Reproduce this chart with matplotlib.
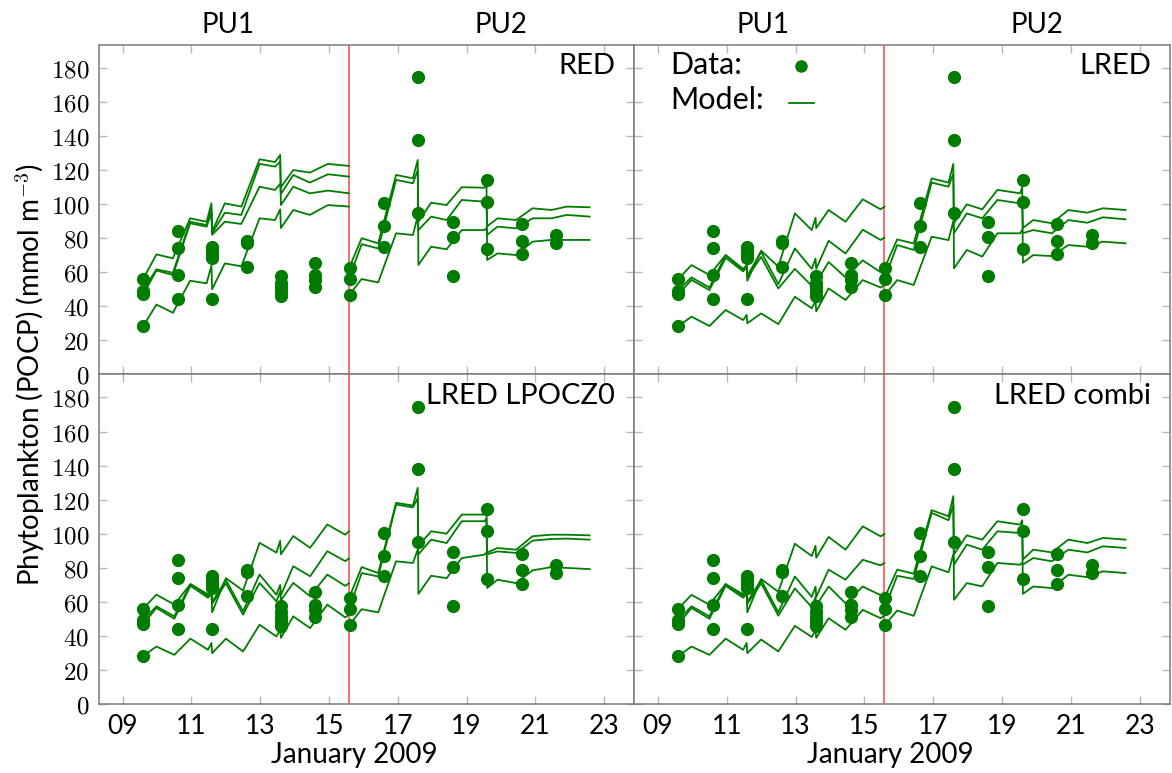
import matplotlib
matplotlib.use("Agg")
import matplotlib.pyplot as plt

plt.rcParams['font.family'] = ['Lato', 'DejaVu Sans']
plt.rcParams['mathtext.fontset'] = 'cm'

# observations (same in every panel)
obs_day = [9.6, 9.6, 9.6, 9.6,
           10.6, 10.6, 10.6, 10.6,
           11.6, 11.6, 11.6, 11.6, 11.6,
           12.6, 12.6, 12.6,
           13.6, 13.6, 13.6, 13.6, 13.6,
           14.6, 14.6, 14.6, 14.6,
           15.6, 15.6, 15.6,
           16.6, 16.6, 16.6,
           17.6, 17.6, 17.6,
           18.6, 18.6, 18.6,
           19.6, 19.6, 19.6,
           20.6, 20.6, 20.6,
           21.6, 21.6]
obs_val = [56.0, 49.2, 47.2, 28.4,
           84.5, 74.0, 58.5, 44.3,
           75.0, 72.7, 70.7, 68.2, 44.1,
           78.6, 77.4, 63.3,
           57.8, 53.9, 51.5, 49.0, 46.0,
           65.6, 58.4, 55.4, 51.5,
           62.3, 56.0, 46.4,
           100.5, 87.2, 75.0,
           174.6, 137.8, 95.0,
           89.4, 80.5, 57.8,
           114.3, 101.5, 73.7,
           88.4, 78.6, 70.7,
           81.9, 77.0]

# model output times
t_red1 = [9.6, 9.98, 10.46, 10.96, 11.44, 11.58, 11.6, 11.97, 12.45, 12.98,
          13.43, 13.58, 13.6, 13.96, 14.44, 14.97, 15.58]
t_lr1 = [9.6, 9.98, 10.5, 10.97, 11.48, 11.58, 11.6, 12.0, 12.5, 12.98,
         13.47, 13.58, 13.6, 13.96, 14.45, 14.95, 15.47, 15.58]
t_pu2 = [15.58, 15.95, 16.43, 16.95, 17.44, 17.58, 17.6, 17.97, 18.42, 18.86,
         19.52, 19.58, 19.6, 19.9, 20.44, 20.92, 21.47, 21.92, 22.58]

# RED
red_pu1 = [
    [56.2, 70.5, 68.2, 91.7, 89.7, 100.5, 84.0, 100.5, 98.6, 126.4, 124.8, 129.0, 99.5, 110.3, 106.4, 108.0, 106.4],
    [49.6, 61.7, 59.7, 89.7, 87.8, 97.0, 83.0, 95.0, 93.7, 123.7, 122.1, 125.0, 110.0, 120.1, 118.6, 123.7, 122.5],
    [47.2, 61.0, 58.4, 88.8, 86.8, 95.0, 82.0, 89.7, 88.4, 110.3, 108.4, 112.0, 106.0, 117.2, 112.7, 117.6, 116.2],
    [28.4, 41.0, 36.2, 55.0, 53.5, 64.0, 50.0, 65.2, 63.5, 91.7, 90.7, 97.0, 86.0, 96.6, 93.7, 99.5, 98.6],
]
red_pu2 = [
    [62.3, 80.0, 77.0, 117.2, 115.2, 126.0, 64.3, 75.0, 73.5, 84.8, 84.8, 86.0, 82.0, 86.8, 85.8, 91.7, 91.7, 93.7, 92.7],
    [56.4, 76.5, 74.0, 114.3, 112.3, 120.0, 89.7, 100.9, 99.5, 110.0, 109.7, 113.0, 67.2, 71.1, 70.1, 78.0, 79.0, 79.0, 79.0],
    [46.6, 56.0, 54.0, 82.9, 81.9, 93.0, 84.8, 92.7, 90.7, 102.5, 101.5, 103.0, 87.0, 91.7, 90.7, 97.6, 96.6, 98.6, 98.2],
]

# LRED
lred_pu1 = [
    [56.2, 64.2, 58.4, 70.1, 61.3, 64.0, 55.0, 72.7, 63.3, 94.6, 84.8, 92.0, 86.0, 96.6, 89.7, 102.9, 97.0, 98.6],
    [49.6, 57.0, 51.0, 70.0, 62.0, 64.0, 58.0, 72.0, 53.0, 74.0, 62.0, 68.0, 62.0, 78.5, 71.0, 85.0, 79.0, 80.3],
    [47.2, 55.5, 49.5, 68.5, 60.5, 63.0, 57.0, 69.0, 50.5, 62.0, 52.0, 58.0, 54.0, 66.0, 57.0, 67.0, 60.0, 61.3],
    [28.4, 33.9, 28.4, 37.8, 31.9, 35.0, 30.0, 35.8, 29.5, 45.6, 38.8, 43.0, 37.0, 50.5, 43.7, 55.4, 51.0, 52.5],
]
lred_pu2 = [
    [62.3, 79.3, 76.9, 115.2, 112.7, 123.7, 62.3, 73.1, 69.2, 82.9, 82.9, 85.0, 83.0, 84.8, 82.9, 90.7, 89.1, 92.3, 91.1],
    [55.8, 76.0, 73.1, 112.7, 110.3, 118.0, 89.0, 99.9, 97.0, 108.4, 106.4, 110.0, 65.6, 70.1, 69.5, 76.0, 75.0, 78.0, 77.0],
    [46.2, 55.4, 52.5, 80.9, 78.9, 90.0, 83.0, 94.6, 91.7, 102.5, 100.5, 102.0, 86.0, 90.7, 88.8, 96.6, 95.0, 97.6, 96.6],
]

# LRED LPOCZ0
lpoc_pu1 = [
    [56.3, 64.3, 58.5, 70.5, 63.5, 66.0, 54.0, 74.0, 66.7, 94.7, 89.0, 96.0, 88.0, 98.7, 91.8, 105.5, 99.5, 101.5],
    [49.6, 57.5, 51.6, 70.5, 64.5, 67.0, 60.0, 73.0, 54.5, 76.1, 64.3, 70.0, 64.0, 81.0, 75.1, 89.8, 84.0, 85.5],
    [47.2, 56.5, 50.2, 69.5, 62.5, 65.0, 59.0, 71.0, 52.6, 71.2, 60.4, 66.0, 61.0, 71.2, 63.4, 76.1, 69.5, 71.0],
    [28.4, 33.9, 29.0, 38.5, 32.0, 36.0, 30.0, 38.5, 31.0, 46.7, 39.8, 43.7, 39.0, 51.6, 44.7, 58.5, 51.0, 52.5],
]
lpoc_pu2 = [
    [62.3, 80.5, 77.0, 118.2, 116.6, 127.0, 64.8, 75.4, 74.0, 85.8, 87.8, 89.0, 88.0, 89.7, 88.8, 96.0, 97.0, 97.2, 96.6],
    [55.8, 77.0, 75.0, 117.2, 115.5, 121.0, 93.0, 101.5, 100.1, 111.3, 111.3, 114.0, 68.2, 73.1, 71.1, 78.6, 80.5, 80.0, 79.3],
    [46.2, 55.8, 53.9, 83.9, 82.9, 90.7, 88.0, 96.6, 94.6, 107.4, 107.4, 109.0, 89.0, 91.7, 90.7, 98.6, 99.5, 99.5, 99.1],
]

# LRED combi
combi_pu1 = [
    [56.2, 64.2, 58.4, 70.5, 63.5, 66.0, 54.0, 73.5, 66.0, 94.2, 87.0, 93.0, 86.0, 98.2, 90.7, 104.4, 98.5, 99.9],
    [49.6, 57.5, 51.6, 70.5, 64.5, 67.0, 60.0, 73.0, 54.0, 75.0, 63.0, 69.0, 63.0, 79.0, 73.1, 84.8, 81.5, 82.9],
    [47.2, 56.5, 50.2, 69.5, 62.5, 65.0, 59.0, 71.0, 52.0, 68.0, 57.0, 63.0, 58.0, 69.1, 59.3, 69.1, 64.0, 65.2],
    [28.4, 33.9, 29.0, 38.5, 32.0, 36.0, 30.0, 38.0, 31.0, 46.0, 39.5, 43.5, 39.0, 50.5, 43.7, 55.4, 50.5, 51.9],
]
combi_pu2 = [
    [62.3, 79.0, 76.6, 113.9, 110.3, 122.1, 61.3, 71.1, 69.2, 82.9, 81.9, 83.0, 82.0, 85.8, 83.9, 90.7, 89.1, 92.7, 91.7],
    [55.8, 75.4, 73.5, 112.3, 108.0, 117.0, 88.0, 99.1, 96.6, 107.4, 105.4, 108.0, 64.8, 69.1, 68.2, 76.0, 74.6, 78.0, 77.0],
    [46.2, 55.0, 51.9, 80.9, 77.4, 88.0, 82.0, 93.7, 90.7, 101.5, 100.5, 102.0, 85.0, 90.7, 89.1, 96.6, 94.6, 97.6, 96.6],
]

panel_names = ['RED', 'LRED', 'LRED LPOCZ0', 'LRED combi']
pu1_t = [t_red1, t_lr1, t_lr1, t_lr1]
pu1_lines = [red_pu1, lred_pu1, lpoc_pu1, combi_pu1]
pu2_lines = [red_pu2, lred_pu2, lpoc_pu2, combi_pu2]

switch_day = 15.58
xticks = [9, 11, 13, 15, 17, 19, 21, 23]
yticks = [0, 20, 40, 60, 80, 100, 120, 140, 160, 180]

W, H = 1172, 773
fig = plt.figure(figsize=(W / 100, H / 100), dpi=100)

x0, xm, x1 = 99 / W, 634 / W, 1170 / W
y_top, y_mid, y_bot = 1 - 45 / H, 1 - 374.3 / H, 1 - 704.3 / H
boxes = [
    [x0, y_mid, xm - x0, y_top - y_mid],
    [xm, y_mid, x1 - xm, y_top - y_mid],
    [x0, y_bot, xm - x0, y_mid - y_bot],
    [xm, y_bot, x1 - xm, y_mid - y_bot],
]

green = '#007d00'
for i, box in enumerate(boxes):
    ax = fig.add_axes(box)
    ax.axvline(switch_day, color='#f26464', lw=1.3, zorder=1)
    for vals in pu1_lines[i]:
        ax.plot(pu1_t[i], vals, color=green, lw=1.3, zorder=2)
    for vals in pu2_lines[i]:
        ax.plot(t_pu2, vals, color=green, lw=1.3, zorder=2)
    ax.plot(obs_day, obs_val, 'o', color=green, ms=8.5, zorder=3)

    ax.set_xlim(8.31, 23.87)
    ax.set_ylim(0, 193.6)
    ax.set_xticks(xticks)
    ax.set_yticks(yticks)
    ax.tick_params(direction='in', length=6, color='#b8b8b8', width=1,
                   top=True, right=True, pad=7)
    for s in ax.spines.values():
        s.set_color('#7a7a7a')
        s.set_linewidth(1.1)

    if i in (2, 3):
        ax.set_xticklabels(['%02d' % d for d in xticks], fontsize=19)
        ax.set_xlabel('January 2009', fontsize=20)
        ax.xaxis.set_label_coords(0.478, -0.115)
    else:
        ax.set_xticklabels([])
        ax.text(0.241, 1.02, 'PU1', transform=ax.transAxes, ha='center', va='bottom', fontsize=20)
        ax.text(0.752, 1.02, 'PU2', transform=ax.transAxes, ha='center', va='bottom', fontsize=20)
    if i in (0, 2):
        ax.set_yticklabels(['$%d$' % v for v in yticks], fontsize=18)
    else:
        ax.set_yticklabels([])

    ax.text(0.965, 0.975, panel_names[i], transform=ax.transAxes,
            ha='right', va='top', fontsize=21)

    if i == 1:
        # legend entries: left-aligned labels, symbols in a column to the right
        ax.text(0.067, 0.939, 'Data:', transform=ax.transAxes,
                ha='left', va='center', fontsize=22)
        ax.text(0.067, 0.833, 'Model:', transform=ax.transAxes,
                ha='left', va='center', fontsize=22)
        ax.plot([0.312], [0.936], 'o', color=green, ms=8, transform=ax.transAxes,
                clip_on=False)
        ax.plot([0.290, 0.335], [0.825, 0.825], color=green, lw=1.3,
                transform=ax.transAxes)

fig.text(0.026, (y_top + y_bot) / 2, 'Phytoplankton (POCP) (mmol m$^{-3}$)',
         rotation=90, ha='center', va='center', fontsize=20)

fig.savefig('out.png', dpi=100)
